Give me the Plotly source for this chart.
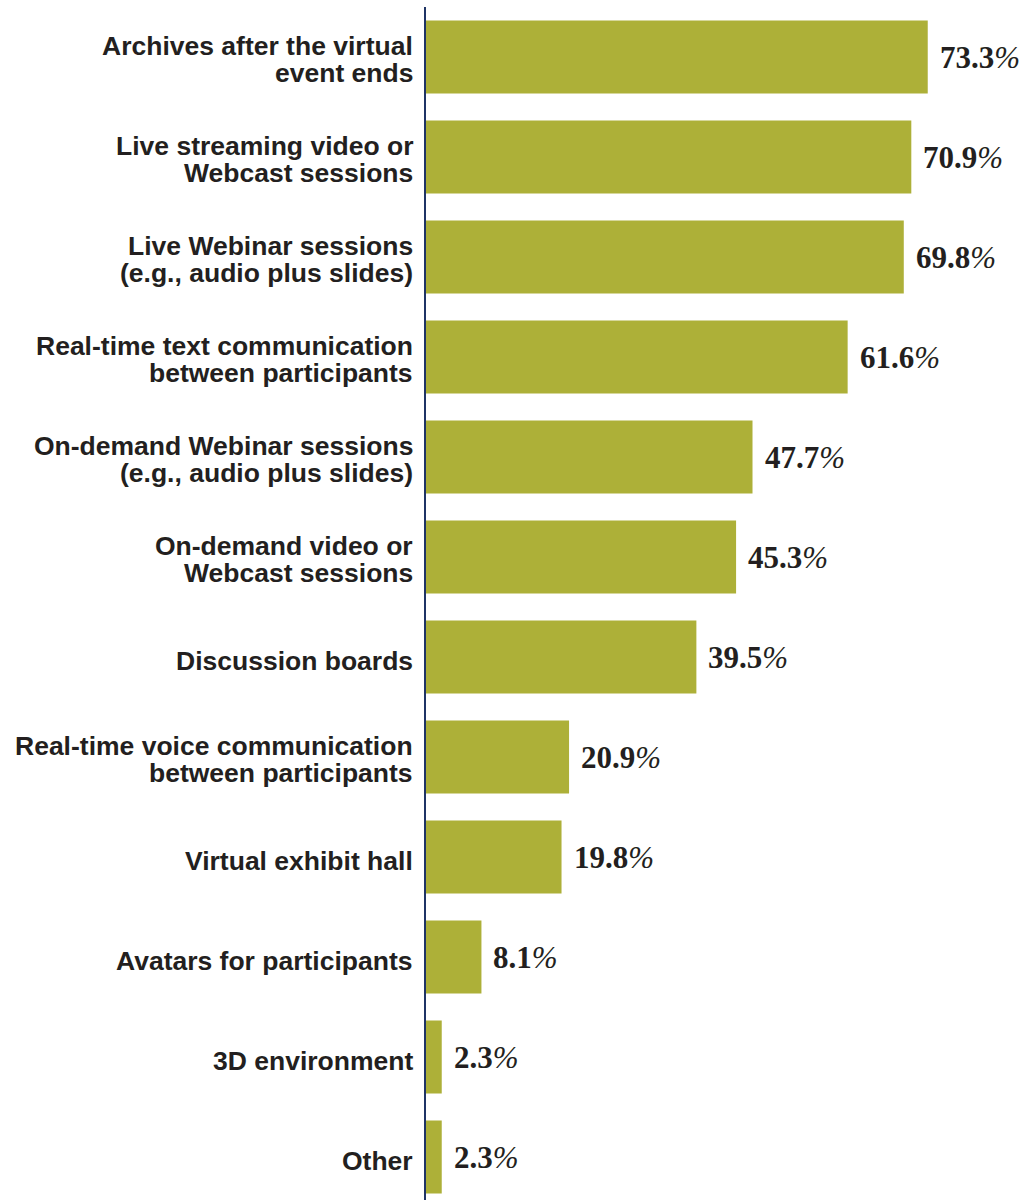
import plotly.graph_objects as go

# Survey features, listed top to bottom
categories = [
    "Archives after the virtual<br>event ends",
    "Live streaming video or<br>Webcast sessions",
    "Live Webinar sessions<br>(e.g., audio plus slides)",
    "Real-time text communication<br>between participants",
    "On-demand Webinar sessions<br>(e.g., audio plus slides)",
    "On-demand video or<br>Webcast sessions",
    "Discussion boards",
    "Real-time voice communication<br>between participants",
    "Virtual exhibit hall",
    "Avatars for participants",
    "3D environment",
    "Other",
]
percentages = [73.3, 70.9, 69.8, 61.6, 47.7, 45.3, 39.5, 20.9, 19.8, 8.1, 2.3, 2.3]

BAR_COLOR = "#ADB038"
AXIS_COLOR = "#1F3465"
TEXT_COLOR = "#231F20"
LABEL_FONT = dict(family="Liberation Sans, Arial, sans-serif", size=26.5, color=TEXT_COLOR)
VALUE_FONT = dict(family="Liberation Serif, Times New Roman, serif", size=31, color=TEXT_COLOR)

positions = list(range(len(categories)))

fig = go.Figure(
    go.Bar(
        x=percentages,
        y=positions,
        orientation="h",
        width=0.73,
        marker=dict(color=BAR_COLOR, line=dict(width=0)),
        hoverinfo="skip",
    )
)

annotations = []
# Category labels, one annotation per line so the leading can be kept tight
SINGLE_SHIFT = -3.7
LINE_GAP = 26.5
for pos, label in zip(positions, categories):
    lines = label.split("<br>")
    n = len(lines)
    for i, line in enumerate(lines):
        shift = SINGLE_SHIFT + ((n - 1) / 2 - i) * LINE_GAP + (n - 1) * 1.2
        annotations.append(dict(
            x=0, xref="paper", y=pos, yref="y",
            xanchor="right", yanchor="middle",
            xshift=-11, yshift=shift,
            text="<b>" + line + "</b>",
            showarrow=False, font=LABEL_FONT,
        ))

# Value labels just past the end of each bar
for pos, val in zip(positions, percentages):
    annotations.append(dict(
        x=val, xref="x", y=pos, yref="y",
        xanchor="left", yanchor="middle",
        xshift=10, yshift=-0.5,
        text="<b>%.1f</b><span style='font-weight:normal'><i>%%</i></span>" % val,
        showarrow=False, font=VALUE_FONT,
    ))

fig.update_layout(
    width=1032,
    height=1200,
    margin=dict(l=426, r=0, t=7, b=0, pad=0),
    paper_bgcolor="white",
    plot_bgcolor="white",
    showlegend=False,
    annotations=annotations,
    xaxis=dict(
        range=[0, 606 / 6.845],
        showgrid=False, zeroline=False, showline=False,
        showticklabels=False, ticks="", fixedrange=True,
    ),
    yaxis=dict(
        range=[-0.5 + 11.93, -0.5],
        showgrid=False, zeroline=False,
        showline=True, linecolor=AXIS_COLOR, linewidth=2,
        showticklabels=False, ticks="", fixedrange=True,
    ),
)

fig.write_html("out.html")
